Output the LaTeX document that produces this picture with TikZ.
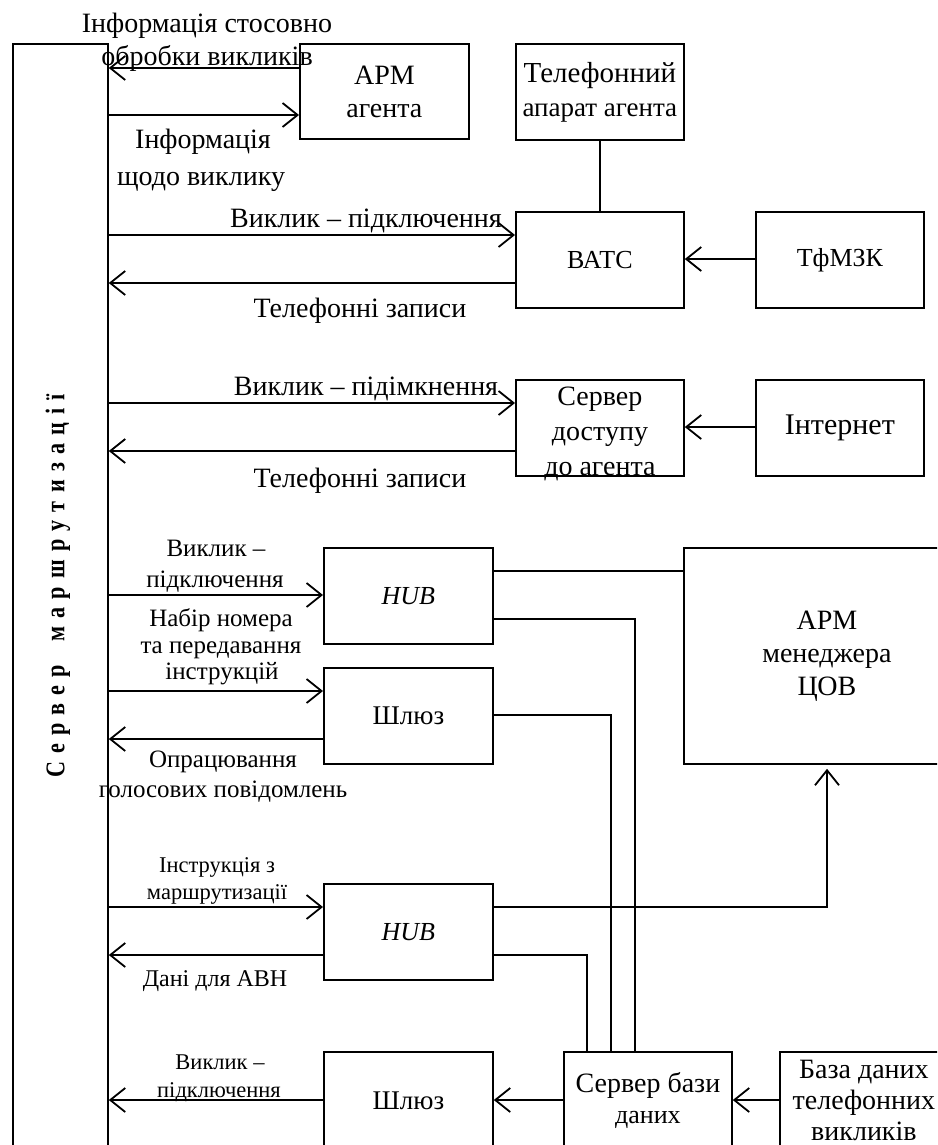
\documentclass[tikz,border=0pt]{standalone}
\usepackage{fontspec}
\setmainfont{Liberation Serif}
\usetikzlibrary{arrows.meta}
% font sizes used in the scheme
\newcommand\fsA{\fontsize{28}{33}\selectfont}
\newcommand\fsB{\fontsize{25}{29}\selectfont}
\newcommand\fsC{\fontsize{22.5}{27}\selectfont}
% letter and word gaps of the spaced vertical caption
\newcommand\lsp{\hspace{10pt}}
\newcommand\wsp{\hspace{28pt}}
\begin{document}
\begin{tikzpicture}[x=1pt,y=-1pt,
  box/.style={draw, line width=1.8pt, inner sep=0pt, align=center, anchor=north west},
  txt/.style={inner sep=0pt, align=center},
  lbl/.style={inner sep=0pt, anchor=base},
  link/.style={line width=1.8pt},
  arr/.style={line width=1.8pt, -{Straight Barb[length=15pt,width=24pt,line width=1.8pt]}},
]
\useasboundingbox (0,0) rectangle (937,1145);
\clip (0,0) rectangle (937,1145);

% routing server (left column)
\node[box, minimum width=95pt, minimum height=1200pt] (srv) at (12,43) {};
\node[inner sep=0pt, rotate=90, xscale=0.82, font=\fontsize{27}{30}\selectfont\bfseries] (srvT) at (58,586)
  {С\lsp е\lsp р\lsp в\lsp е\lsp р\wsp м\lsp а\lsp р\lsp ш\lsp р\lsp у\lsp т\lsp и\lsp з\lsp а\lsp ц\lsp і\lsp ї};

% blocks
\node[box, minimum width=169pt, minimum height=95pt, font=\fsA] (apm) at (299,43) {АРМ\\агента};
\node[box, minimum width=168pt, minimum height=96pt, font=\fontsize{29}{34}\selectfont] (tel) at (515,43)
  {Телефонний\\{\fontsize{27}{34}\selectfont апарат агента}};
\node[box, minimum width=168pt, minimum height=96pt, font=\fontsize{26}{30}\selectfont] (vatc) at (515,211) {ВАТС};
\node[box, minimum width=168pt, minimum height=96pt, font=\fontsize{26}{30}\selectfont] (tfm) at (755,211) {ТфМЗК};
\node[box, minimum width=168pt, minimum height=96pt] (sda) at (515,379) {};
\node[txt, font=\fontsize{28}{35}\selectfont] (sdaT) at ([yshift=-6pt]sda.center) {Сервер\\доступу\\до агента};
\node[box, minimum width=168pt, minimum height=96pt, font=\fontsize{30}{34}\selectfont] (inet) at (755,379) {Інтернет};
\node[box, minimum width=169pt, minimum height=96pt, font=\fontsize{26}{30}\selectfont\itshape] (hub1) at (323,547) {HUB};
\node[box, minimum width=169pt, minimum height=96pt, font=\fontsize{27}{30}\selectfont] (shl1) at (323,667) {Шлюз};
\node[box, minimum width=286pt, minimum height=216pt, font=\fontsize{28}{33}\selectfont] (armm) at (683,547) {АРМ\\менеджера\\ЦОВ};
\node[box, minimum width=169pt, minimum height=96pt, font=\fontsize{26}{30}\selectfont\itshape] (hub2) at (323,883) {HUB};
\node[box, minimum width=169pt, minimum height=98pt, font=\fontsize{27}{30}\selectfont] (shl2) at (323,1051) {Шлюз};
\node[box, minimum width=168pt, minimum height=98pt, font=\fontsize{28}{31}\selectfont] (sbd) at (563,1051)
  {Сервер бази\\{\fontsize{26}{31}\selectfont даних}};
\node[box, minimum width=168pt, minimum height=98pt, font=\fontsize{28}{31}\selectfont] (bdtv) at (779,1051) {База даних\\телефонних\\викликів};

% flow labels
\node[lbl, font=\fsA] (l1a) at (207,33) {Інформація стосовно};
\node[lbl, font=\fsA] (l1b) at (207,66) {обробки викликів};
\node[lbl, font=\fsA] (l2a) at (203,148) {Інформація};
\node[lbl, font=\fsA] (l2b) at (201,185) {щодо виклику};
\node[lbl, font=\fsA] (l3) at (366,227) {Виклик – підключення};
\node[lbl, font=\fsA] (l4) at (360,317) {Телефонні записи};
\node[lbl, font=\fsA] (l5) at (366,395) {Виклик – підімкнення};
\node[lbl, font=\fsA] (l6) at (360,487) {Телефонні записи};
\node[lbl, font=\fsB] (l7a) at (216,556) {Виклик –};
\node[lbl, font=\fsB] (l7b) at (215,587) {підключення};
\node[lbl, font=\fsB] (l8a) at (221,626) {Набір номера};
\node[lbl, font=\fsB] (l8b) at (221,653) {та передавання};
\node[lbl, font=\fsB] (l8c) at (222,679) {інструкцій};
\node[lbl, font=\fsB] (l9a) at (223,767) {Опрацювання};
\node[lbl, font=\fsB] (l9b) at (223,797) {голосових повідомлень};
\node[lbl, font=\fsC] (l10a) at (217,872) {Інструкція з};
\node[lbl, font=\fsC] (l10b) at (217,899) {маршрутизації};
\node[lbl, font=\fontsize{24}{28}\selectfont] (l11) at (215,986) {Дані для АВН};
\node[lbl, font=\fsC] (l12a) at (220,1069) {Виклик –};
\node[lbl, font=\fsC] (l12b) at (219,1097) {підключення};

% corner points of the routed links
\coordinate (c1) at (635,619);
\coordinate (c2) at (611,715);
\coordinate (c3) at (827,907);
\coordinate (c4) at (587,955);

% connectors
\draw[arr] (apm.west |- 0,68) -- (srv.east |- 0,68);
\draw[arr] (srv.east |- 0,115) -- (apm.west |- 0,115);
\draw[link] (tel.south) -- (vatc.north);
\draw[arr] (srv.east |- 0,235) -- (vatc.west |- 0,235);
\draw[arr] (vatc.west |- 0,283) -- (srv.east |- 0,283);
\draw[arr] (tfm.west |- 0,259) -- (vatc.east |- 0,259);
\draw[arr] (srv.east |- 0,403) -- (sda.west |- 0,403);
\draw[arr] (sda.west |- 0,451) -- (srv.east |- 0,451);
\draw[arr] (inet.west |- 0,427) -- (sda.east |- 0,427);
\draw[arr] (srv.east |- 0,595) -- (hub1.west |- 0,595);
\draw[arr] (srv.east |- 0,691) -- (shl1.west |- 0,691);
\draw[arr] (shl1.west |- 0,739) -- (srv.east |- 0,739);
\draw[link] (hub1.east |- 0,571) -- (armm.west |- 0,571);
\draw[link] (hub1.east |- c1) -- (c1) -- (c1 |- sbd.north);
\draw[link] (shl1.east |- c2) -- (c2) -- (c2 |- sbd.north);
\draw[arr] (srv.east |- 0,907) -- (hub2.west |- 0,907);
\draw[arr] (hub2.west |- 0,955) -- (srv.east |- 0,955);
\draw[arr] (hub2.east |- c3) -- (c3) -- ([yshift=-4pt]c3 |- armm.south);
\draw[link] (hub2.east |- c4) -- (c4) -- (c4 |- sbd.north);
\draw[arr] (shl2.west |- 0,1100) -- (srv.east |- 0,1100);
\draw[arr] (sbd.west |- 0,1100) -- (shl2.east |- 0,1100);
\draw[arr] (bdtv.west |- 0,1100) -- (sbd.east |- 0,1100);
\end{tikzpicture}
\end{document}
